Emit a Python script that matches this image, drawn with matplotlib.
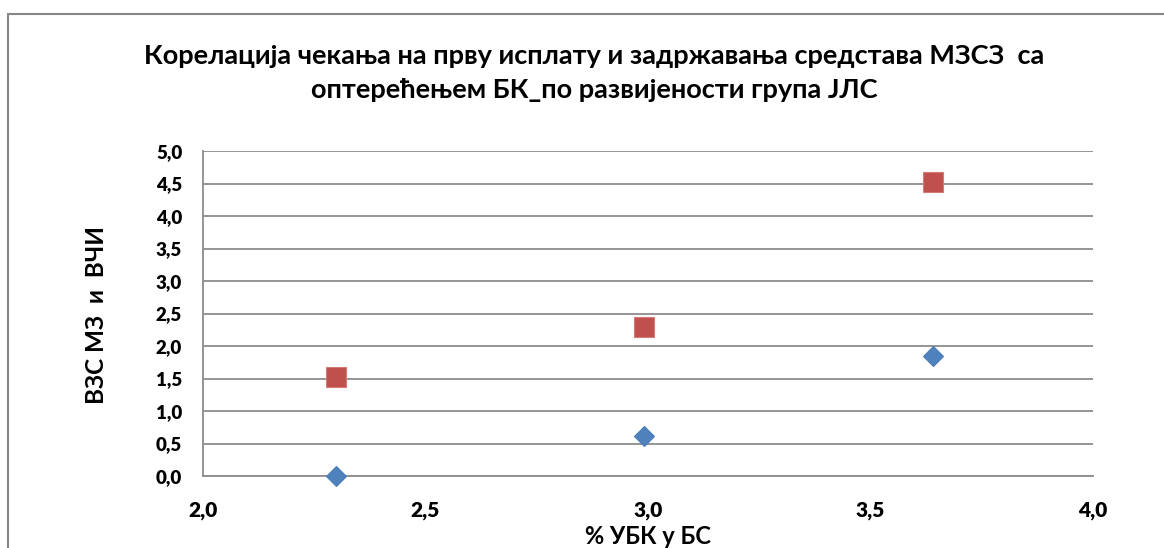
import matplotlib
matplotlib.use("Agg")
import matplotlib.pyplot as plt
from matplotlib.patches import Rectangle
from matplotlib.ticker import FuncFormatter, MultipleLocator

plt.rcParams['font.family'] = ['Lato', 'DejaVu Sans']
plt.rcParams['font.weight'] = 'bold'

# data
x_vals = [2.30, 2.99, 3.64]
vzs_mz = [0.00, 0.62, 1.85]     # blue diamonds
vchi = [1.53, 2.29, 4.52]       # red squares

title = ("Корелација чекања на прву исплату и задржавања средстава МЗСЗ  са\n"
         "оптерећењем БК_по развијености група ЈЛС")
xlabel = "% УБК у БС"
ylabel = "ВЗС МЗ  и  ВЧИ"

fig = plt.figure(figsize=(11.64, 5.48), dpi=100)
W, H = 1164, 548

# outer chart frame (runs off the right and bottom edges)
fig.patches.append(Rectangle((8 / W, -0.05), 1.1, (548 - 14) / H + 0.05,
                             transform=fig.transFigure, fill=False,
                             edgecolor='#878787', linewidth=1.5))

ax = fig.add_axes([203 / W, 1 - 476 / H, (1093 - 203) / W, (476 - 151) / H])

ax.plot(x_vals, vzs_mz, linestyle='none', marker='D', markersize=10,
        color='#4F81BD', markeredgecolor='#4A7EBB', markeredgewidth=0.8,
        zorder=3, clip_on=False)
ax.plot(x_vals, vchi, linestyle='none', marker='s', markersize=14,
        color='#C0504D', markeredgecolor='#D47A77', markeredgewidth=0.8,
        zorder=3, clip_on=False)

ax.set_xlim(2.0, 4.0)
ax.set_ylim(0.0, 5.0)
ax.xaxis.set_major_locator(MultipleLocator(0.5))
ax.yaxis.set_major_locator(MultipleLocator(0.5))
comma = FuncFormatter(lambda v, p: f"{v:.1f}".replace('.', ','))
ax.xaxis.set_major_formatter(comma)
ax.yaxis.set_major_formatter(comma)

ax.grid(axis='y', color='#8c8c8c', linewidth=1.3)
ax.set_axisbelow(True)
for s in ['top', 'right']:
    ax.spines[s].set_visible(False)
for s in ['left', 'bottom']:
    ax.spines[s].set_color('#8c8c8c')
    ax.spines[s].set_linewidth(1.3)

ax.tick_params(axis='both', length=0)
ax.tick_params(axis='y', pad=15, labelsize=13.5)
ax.tick_params(axis='x', pad=18, labelsize=15)

fig.text(594 / W, 1 - 73.5 / H, title, ha='center', va='center',
         fontsize=19.5, fontweight='bold', linespacing=1.5)
fig.text(97 / W, 1 - 315 / H, ylabel, ha='center', va='center',
         rotation=90, fontsize=17.5, fontweight='bold')
fig.text(648 / W, 1 - 536 / H, xlabel, ha='center', va='center',
         fontsize=17, fontweight='bold')

# tick labels heavier, like the original Calibri Bold
fig.canvas.draw()
for lab in ax.get_xticklabels() + ax.get_yticklabels():
    lab.set_fontweight(800)

fig.savefig("out.png", dpi=100)
